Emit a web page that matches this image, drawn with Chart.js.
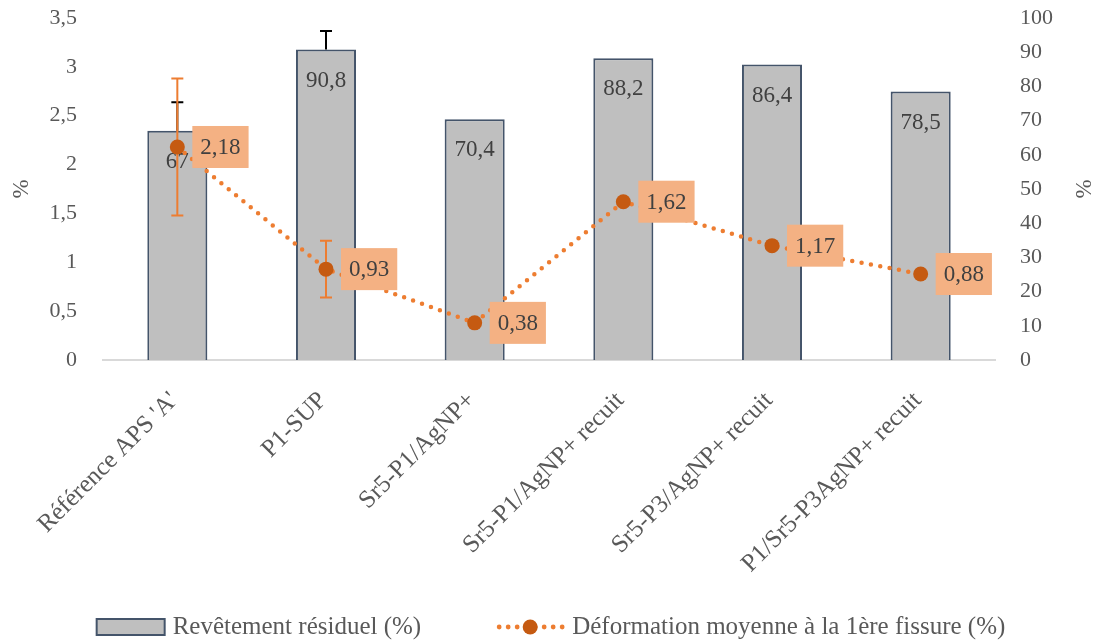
<!DOCTYPE html>
<html>
<head>
<meta charset="utf-8">
<script src="https://cdn.jsdelivr.net/npm/chart.js@4.4.1/dist/chart.umd.min.js"></script>
<style>
  html, body { margin: 0; padding: 0; background: #fff; }
  #wrap { width: 1102px; height: 644px; }
</style>
</head>
<body>
<div id="wrap"><canvas id="chart"></canvas></div>
<script>
// Données
const categories = [
  "Référence APS 'A'",
  "P1-SUP",
  "Sr5-P1/AgNP+",
  "Sr5-P1/AgNP+ recuit",
  "Sr5-P3/AgNP+ recuit",
  "P1/Sr5-P3AgNP+ recuit"
];
const revetement = [67, 90.8, 70.4, 88.2, 86.4, 78.5];
const revetementErr = [8.4, 5.4, null, null, null, null];
const deformation = [2.18, 0.93, 0.38, 1.62, 1.17, 0.88];
const deformationErr = [0.70, 0.29, null, null, null, null];

const FONT = "'Liberation Serif', serif";
const GREY_TEXT = '#595959';
const fmt = v => String(v).replace('.', ',');

// Barres d'erreur
function drawErrors(chart, idx, plus, minus, color, axis) {
  const ctx = chart.ctx;
  const scale = chart.scales[axis];
  const values = chart.data.datasets[idx].data;
  const meta = chart.getDatasetMeta(idx);
  ctx.save();
  ctx.strokeStyle = color;
  ctx.lineWidth = 2;
  meta.data.forEach((el, i) => {
    if (plus[i] == null) return;
    const x = el.x;
    const yTop = scale.getPixelForValue(values[i] + plus[i]);
    const yBot = minus ? scale.getPixelForValue(values[i] - minus[i]) : scale.getPixelForValue(values[i]);
    ctx.beginPath();
    ctx.moveTo(x, yTop); ctx.lineTo(x, yBot);
    ctx.moveTo(x - 6, yTop); ctx.lineTo(x + 6, yTop);
    if (minus) { ctx.moveTo(x - 6, yBot); ctx.lineTo(x + 6, yBot); }
    ctx.stroke();
  });
  ctx.restore();
}

// Étiquettes de valeurs, barres d'erreur, titre de droite et légende
const annotations = {
  id: 'annotations',
  beforeDatasetDraw(chart, args) {
    if (args.index === 1) drawErrors(chart, 1, deformationErr, deformationErr, '#ED7D31', 'y');
  },
  afterDatasetDraw(chart, args) {
    const ctx = chart.ctx;
    ctx.save();
    ctx.font = '23px ' + FONT;
    ctx.textBaseline = 'middle';
    ctx.textAlign = 'center';
    if (args.index === 0) {
      drawErrors(chart, 0, revetementErr, null, '#000', 'y1');
      ctx.fillStyle = '#404040';
      args.meta.data.forEach((bar, i) => {
        ctx.fillText(fmt(revetement[i]), bar.x, bar.y + 31);
      });
    } else {
      args.meta.data.forEach((pt, i) => {
        const txt = fmt(deformation[i]);
        const w = ctx.measureText(txt).width + 16, h = 42;
        const left = pt.x + 15;
        ctx.fillStyle = '#F4B183';
        ctx.fillRect(left, pt.y - h / 2, w, h);
        ctx.fillStyle = '#404040';
        ctx.fillText(txt, left + w / 2, pt.y + 1);
      });
    }
    ctx.restore();
  },
  afterDraw(chart) {
    const ctx = chart.ctx;
    const area = chart.chartArea;
    ctx.save();
    // titre de l'axe de droite, même sens que celui de gauche
    ctx.font = '23px ' + FONT;
    ctx.fillStyle = GREY_TEXT;
    ctx.textAlign = 'center';
    ctx.textBaseline = 'middle';
    ctx.translate(area.right + 90, (area.top + area.bottom) / 2);
    ctx.rotate(-Math.PI / 2);
    ctx.fillText('%', 0, 0);
    ctx.restore();

    // légende
    const labels = chart.data.datasets.map(d => d.label);
    ctx.save();
    ctx.font = '25px ' + FONT;
    ctx.textBaseline = 'middle';
    ctx.textAlign = 'left';
    const symW = 68, gapText = 8, gapItem = 75;
    const tw = labels.map(t => ctx.measureText(t).width);
    const total = symW * 2 + gapText * 2 + tw[0] + tw[1] + gapItem;
    let x = (chart.width - total) / 2;
    const y = 627;
    ctx.fillStyle = '#BFBFBF';
    ctx.fillRect(x, y - 8, symW, 16);
    ctx.strokeStyle = '#44546A';
    ctx.lineWidth = 2;
    ctx.strokeRect(x, y - 8, symW, 16);
    ctx.fillStyle = GREY_TEXT;
    ctx.fillText(labels[0], x + symW + gapText, y);
    x += symW + gapText + tw[0] + gapItem;
    ctx.fillStyle = '#ED7D31';
    for (let dx = 3; dx <= symW - 2; dx += 9) {
      ctx.beginPath(); ctx.arc(x + dx, y, 2.4, 0, Math.PI * 2); ctx.fill();
    }
    ctx.fillStyle = '#C55A11';
    ctx.beginPath(); ctx.arc(x + symW / 2, y, 7.5, 0, Math.PI * 2); ctx.fill();
    ctx.fillStyle = GREY_TEXT;
    ctx.fillText(labels[1], x + symW + gapText, y);
    ctx.restore();
  }
};

// la marge des graduations ne doit pas repousser le haut de la zone de tracé
function fitVertical(width) {
  return s => {
    s.width = width;
    s.paddingTop = 12;
    s.paddingBottom = 12;
  };
}

const ctx = document.getElementById('chart').getContext('2d');
new Chart(ctx, {
  type: 'bar',
  data: {
    labels: categories,
    datasets: [
      {
        type: 'bar',
        label: 'Revêtement résiduel (%)',
        data: revetement,
        yAxisID: 'y1',
        backgroundColor: '#BFBFBF',
        borderColor: '#44546A',
        borderWidth: 2,
        categoryPercentage: 1,
        barPercentage: 0.404,
        order: 2
      },
      {
        type: 'line',
        label: 'Déformation moyenne à la 1ère fissure (%)',
        data: deformation,
        yAxisID: 'y',
        borderColor: '#ED7D31',
        borderWidth: 4.5,
        borderDash: [0, 9.5],
        borderCapStyle: 'round',
        pointRadius: 7.5,
        pointBackgroundColor: '#C55A11',
        pointBorderColor: '#C55A11',
        pointBorderWidth: 0,
        tension: 0,
        order: 1
      }
    ]
  },
  options: {
    responsive: true,
    maintainAspectRatio: false,
    animation: false,
    layout: { padding: { top: 18, bottom: 44 } },
    plugins: {
      tooltip: { enabled: false },
      legend: { display: false }
    },
    scales: {
      x: {
        grid: { display: false, drawTicks: false },
        border: { display: true, color: '#D9D9D9', width: 2 },
        ticks: {
          color: GREY_TEXT,
          font: { family: FONT, size: 25 },
          maxRotation: 45,
          minRotation: 45,
          padding: 26,
          labelOffset: -3
        },
        afterFit(s) { s.height = 240; }
      },
      y: {
        position: 'left',
        min: 0, max: 3.5,
        grid: { display: false, drawTicks: false },
        border: { display: false },
        ticks: {
          stepSize: 0.5,
          color: GREY_TEXT,
          font: { family: FONT, size: 22 },
          padding: 26,
          callback: v => fmt(v)
        },
        title: { display: true, text: '%', color: GREY_TEXT, font: { family: FONT, size: 23 }, padding: { top: 8, bottom: 0 } },
        afterFit: fitVertical(103)
      },
      y1: {
        position: 'right',
        min: 0, max: 100,
        grid: { display: false, drawTicks: false },
        border: { display: false },
        ticks: {
          stepSize: 10,
          autoSkip: false,
          color: GREY_TEXT,
          font: { family: FONT, size: 22 },
          padding: 25
        },
        afterFit: fitVertical(107)
      }
    }
  },
  plugins: [annotations]
});
</script>
</body>
</html>
